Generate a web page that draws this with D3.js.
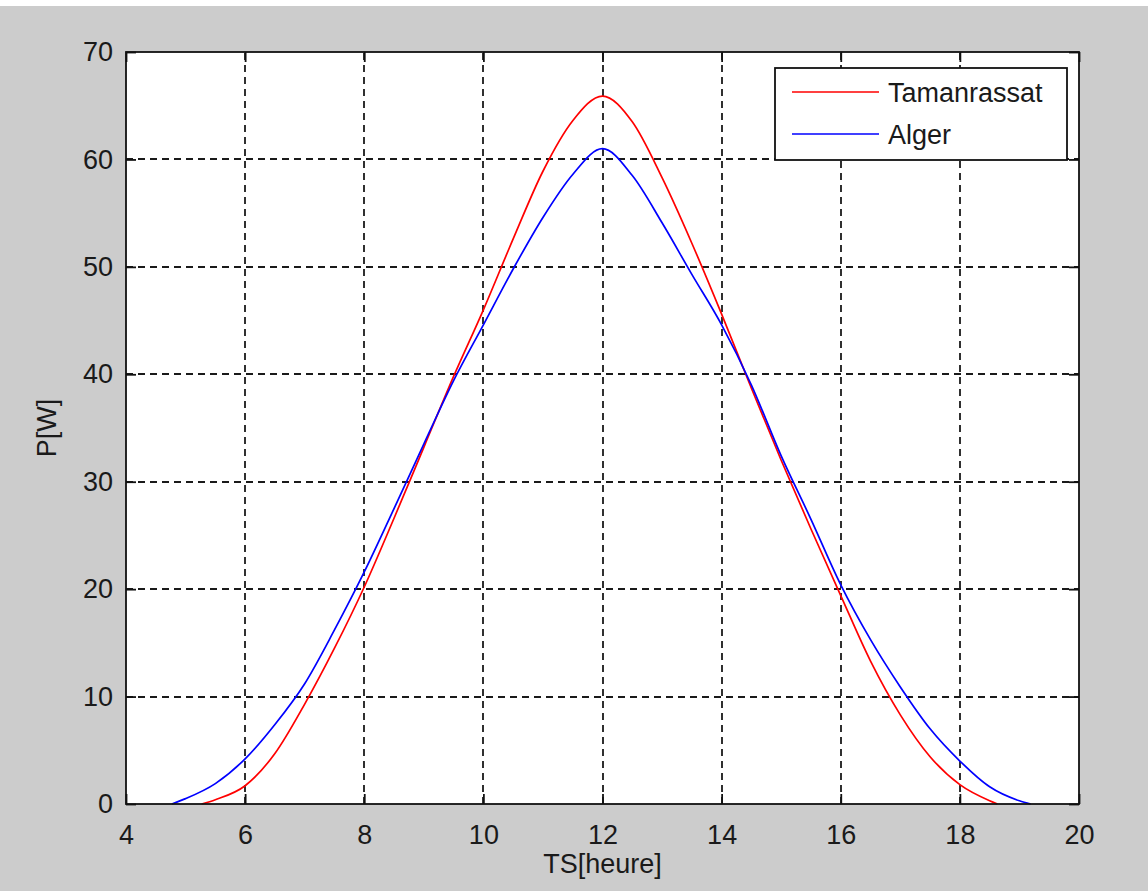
<!DOCTYPE html>
<html>
<head>
<meta charset="utf-8">
<script src="https://cdn.jsdelivr.net/npm/d3@7"></script>
<style>
  body { margin: 0; background: #cccccc; }
  text { font-family: "Liberation Sans", Arial, sans-serif; fill: #1a1a1a; }
</style>
</head>
<body>
<div id="chart"></div>
<script>
// heures solaires + puissance
var tamHours = [5.27, 5.5, 6, 6.5, 7, 7.5, 8, 8.5, 9, 9.5, 10, 10.5, 11, 11.5, 12, 12.5, 13, 13.5, 14, 14.5, 15, 15.5, 16, 16.5, 17, 17.5, 18, 18.5, 18.63];
var tamPower = [0, 0.4, 1.7, 4.7, 9.3, 14.5, 20.2, 26.6, 33.2, 39.8, 46.0, 52.6, 58.9, 63.6, 65.9, 63.5, 58.3, 52.2, 45.6, 38.7, 32.0, 25.6, 19.4, 13.3, 8.3, 4.4, 1.8, 0.3, 0];

var algHours = [4.77, 5, 5.5, 6, 6.5, 7, 7.5, 8, 8.5, 9, 9.5, 10, 10.5, 11, 11.5, 12, 12.5, 13, 13.5, 14, 14.5, 15, 15.5, 16, 16.5, 17, 17.5, 18, 18.5, 19, 19.19];
var algPower = [0, 0.5, 1.9, 4.2, 7.4, 11.2, 16.2, 21.6, 27.5, 33.5, 39.4, 44.6, 49.8, 54.6, 58.6, 61.0, 58.5, 54.1, 49.3, 44.6, 39.0, 32.4, 26.5, 20.4, 15.3, 10.9, 7.0, 4.0, 1.6, 0.3, 0];

var xTicks = [4, 6, 8, 10, 12, 14, 16, 18, 20];
var yTicks = [0, 10, 20, 30, 40, 50, 60, 70];
var seriesNames = ["Tamanrassat", "Alger"];
var seriesColors = ["#ff0000", "#0000ff"];

var W = 1148, H = 891;
var plot = { left: 126, top: 52, right: 1079, bottom: 804 };

var svg = d3.select("#chart").append("svg")
    .attr("width", W)
    .attr("height", H);

svg.append("rect").attr("width", W).attr("height", H).attr("fill", "#cccccc");
svg.append("rect").attr("width", W).attr("height", 6).attr("fill", "#ffffff");

var x = d3.scaleLinear().domain([4, 20]).range([plot.left, plot.right]);
var y = d3.scaleLinear().domain([0, 70]).range([plot.bottom, plot.top]);

// zone blanche
svg.append("rect")
    .attr("x", plot.left).attr("y", plot.top)
    .attr("width", plot.right - plot.left)
    .attr("height", plot.bottom - plot.top)
    .attr("fill", "#ffffff");

// grille pointillee
var grid = svg.append("g").attr("stroke", "#1a1a1a").attr("stroke-width", 1.8).attr("stroke-dasharray", "7,5");
grid.selectAll("line.v").data(xTicks.slice(1, -1)).enter().append("line")
    .attr("x1", function(d) { return Math.round(x(d)); })
    .attr("x2", function(d) { return Math.round(x(d)); })
    .attr("y1", plot.bottom).attr("y2", plot.top);
grid.selectAll("line.h").data(yTicks.slice(1, -1)).enter().append("line")
    .attr("y1", function(d) { return Math.round(y(d)); })
    .attr("y2", function(d) { return Math.round(y(d)); })
    .attr("x1", plot.left).attr("x2", plot.right);

// courbes
var seriesData = [
    d3.zip(tamHours, tamPower),
    d3.zip(algHours, algPower)
];
var line = d3.line()
    .x(function(d) { return x(d[0]); })
    .y(function(d) { return y(d[1]); })
    .curve(d3.curveMonotoneX);

svg.selectAll("path.serie").data(seriesData).enter().append("path")
    .attr("class", "serie")
    .attr("d", line)
    .attr("fill", "none")
    .attr("stroke-width", 1.7)
    .attr("stroke", function(d, i) { return seriesColors[i]; });

// axes (ticks interieurs, cadre)
var tickLen = 10;
var xAxisB = d3.axisBottom(x).tickValues(xTicks).tickSizeInner(-tickLen).tickSizeOuter(0).tickPadding(14);
var xAxisT = d3.axisTop(x).tickValues(xTicks).tickSizeInner(-tickLen).tickSizeOuter(0).tickFormat("");
var yAxisL = d3.axisLeft(y).tickValues(yTicks).tickSizeInner(-tickLen).tickSizeOuter(0).tickPadding(13);
var yAxisR = d3.axisRight(y).tickValues(yTicks).tickSizeInner(-tickLen).tickSizeOuter(0).tickFormat("");

function styleAxis(g) {
    g.select(".domain").remove();
    g.selectAll(".tick line").attr("stroke", "#111").attr("stroke-width", 1.8);
    g.selectAll(".tick text").style("font-size", "27px").attr("fill", "#1a1a1a");
}

svg.append("g").attr("transform", "translate(0," + plot.bottom + ")").call(xAxisB).call(styleAxis)
    .selectAll(".tick text").attr("dy", "0.95em");
svg.append("g").attr("transform", "translate(0," + plot.top + ")").call(xAxisT).call(styleAxis);
svg.append("g").attr("transform", "translate(" + plot.left + ",0)").call(yAxisL).call(styleAxis);
svg.append("g").attr("transform", "translate(" + plot.right + ",0)").call(yAxisR).call(styleAxis);

svg.append("rect")
    .attr("x", plot.left).attr("y", plot.top)
    .attr("width", plot.right - plot.left)
    .attr("height", plot.bottom - plot.top)
    .attr("fill", "none")
    .attr("stroke", "#111")
    .attr("stroke-width", 1.8);

// titres des axes
svg.append("text")
    .attr("x", (plot.left + plot.right) / 2)
    .attr("y", 873)
    .attr("text-anchor", "middle")
    .style("font-size", "27px")
    .text("TS[heure]");

svg.append("text")
    .attr("transform", "translate(56," + ((plot.top + plot.bottom) / 2) + ") rotate(-90)")
    .attr("text-anchor", "middle")
    .style("font-size", "27px")
    .text("P[W]");

// legende
var legend = svg.append("g");
legend.append("rect")
    .attr("x", 775).attr("y", 68)
    .attr("width", 292).attr("height", 92)
    .attr("fill", "#ffffff")
    .attr("stroke", "#111")
    .attr("stroke-width", 1.8);

var items = legend.selectAll("g.item").data(seriesNames).enter().append("g")
    .attr("class", "item")
    .attr("transform", function(d, i) { return "translate(0," + (92 + i * 42) + ")"; });
items.append("line")
    .attr("x1", 792).attr("x2", 879)
    .attr("y1", 0).attr("y2", 0)
    .attr("stroke-width", 1.7)
    .attr("stroke", function(d, i) { return seriesColors[i]; });
items.append("text")
    .attr("x", 888)
    .attr("y", 10)
    .style("font-size", "27px")
    .text(function(d) { return d; });
</script>
</body>
</html>
